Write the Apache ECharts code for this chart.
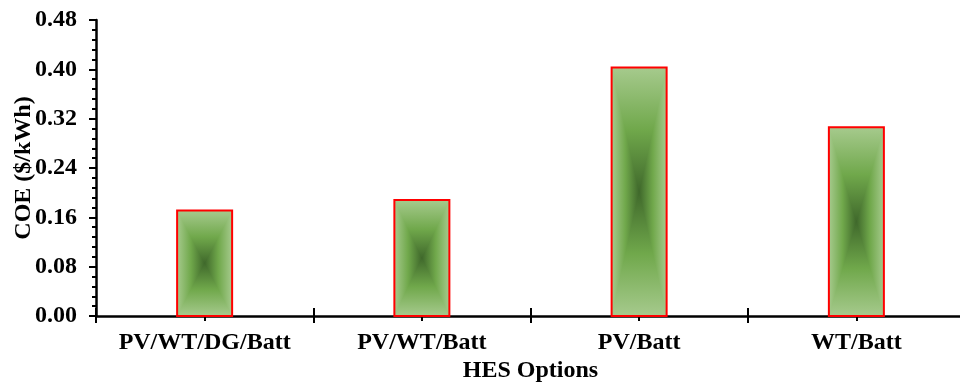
<!DOCTYPE html>
<html>
<head>
<meta charset="utf-8">
<script src="https://cdn.jsdelivr.net/npm/echarts@6/dist/echarts.min.js"></script>
<style>
  html, body { margin: 0; padding: 0; background: #fff; }
  #chart { width: 960px; height: 382px; }
</style>
</head>
<body>
<div id="chart"></div>
<script>
var categories = ["PV/WT/DG/Batt", "PV/WT/Batt", "PV/Batt", "WT/Batt"];
var coeValues = [0.171, 0.188, 0.403, 0.306];
var yTicks = { min: 0, max: 0.48, interval: 0.08 };

var font = "'Liberation Serif', 'Times New Roman', serif";
var barWidth = 55;

// Excel style "from centre" fill, light at the edges, dark in the middle
var stops = [
  { offset: 0, color: "#a6ca8d" },
  { offset: 0.5, color: "#70a84b" },
  { offset: 1, color: "#3f682b" }
];
function grad(x0, y0, x1, y1) {
  return { type: "linear", x: x0, y: y0, x2: x1, y2: y1, colorStops: stops };
}

function renderBar(params, api) {
  var top = api.coord([api.value(0), api.value(1)]);
  var base = api.coord([api.value(0), 0]);
  var l = top[0] - barWidth / 2, r = top[0] + barWidth / 2;
  var t = top[1], b = base[1];
  var cx = top[0], cy = (t + b) / 2;
  return {
    type: "group",
    children: [
      // top and bottom halves first, the side triangles go over them
      { type: "rect", shape: { x: l, y: t, width: barWidth, height: cy - t + 0.5 }, style: { fill: grad(0, 0, 0, 1) } },
      { type: "rect", shape: { x: l, y: cy - 0.5, width: barWidth, height: b - cy + 0.5 }, style: { fill: grad(0, 1, 0, 0) } },
      { type: "polygon", shape: { points: [[l, t], [l, b], [cx, cy]] }, style: { fill: grad(0, 0, 1, 0) } },
      { type: "polygon", shape: { points: [[r, t], [r, b], [cx, cy]] }, style: { fill: grad(1, 0, 0, 0) } },
      { type: "rect", shape: { x: l, y: t, width: barWidth, height: b - t }, style: { fill: null, stroke: "#ff0000", lineWidth: 2 } }
    ]
  };
}

var chart = echarts.init(document.getElementById("chart"));
chart.setOption({
  animation: false,
  grid: { left: 96, top: 20, bottom: 66, width: 869, outerBoundsMode: "none" },
  xAxis: [
    {
      type: "category",
      data: categories,
      name: "HES Options",
      nameLocation: "middle",
      nameGap: 43,
      nameMoveOverlap: false,
      nameTextStyle: { fontFamily: font, fontWeight: "bold", fontSize: 24, color: "#000" },
      axisLine: { lineStyle: { color: "#000", width: 2.5 } },
      axisTick: { show: true, inside: false, length: 7, lineStyle: { color: "#000", width: 2 } },
      axisLabel: { interval: 0, margin: 15, fontFamily: font, fontWeight: "bold", fontSize: 24, color: "#000" },
      splitLine: { show: false }
    },
    {
      type: "category",
      data: categories,
      position: "bottom",
      axisLine: { show: false },
      axisTick: { show: true, interval: 0, inside: true, length: 8, lineStyle: { color: "#000", width: 2 } },
      axisLabel: { show: false },
      splitLine: { show: false }
    },
    {
      type: "category",
      data: categories,
      position: "bottom",
      axisLine: { show: false },
      axisTick: { show: true, interval: 0, alignWithLabel: true, length: 5, lineStyle: { color: "#000", width: 2 } },
      axisLabel: { show: false },
      splitLine: { show: false }
    }
  ],
  yAxis: {
    type: "value",
    min: yTicks.min,
    max: yTicks.max,
    interval: yTicks.interval,
    name: "COE ($/kWh)",
    nameLocation: "middle",
    nameGap: 60,
    nameMoveOverlap: false,
    nameTextStyle: { fontFamily: font, fontWeight: "bold", fontSize: 24, color: "#000" },
    axisLine: { show: true, lineStyle: { color: "#000", width: 2.5 } },
    axisTick: { show: true, length: 7, lineStyle: { color: "#000", width: 2 } },
    minorTick: { show: true, splitNumber: 5, length: 4, lineStyle: { color: "#000", width: 2 } },
    axisLabel: {
      margin: 19, fontFamily: font, fontWeight: "bold", fontSize: 24, color: "#000",
      formatter: function (v) { return v.toFixed(2); }
    },
    splitLine: { show: false }
  },
  series: [
    {
      type: "custom",
      xAxisIndex: 0,
      renderItem: renderBar,
      encode: { x: 0, y: 1 },
      data: categories.map(function (c, i) { return [i, coeValues[i]]; })
    }
  ]
});
</script>
</body>
</html>
